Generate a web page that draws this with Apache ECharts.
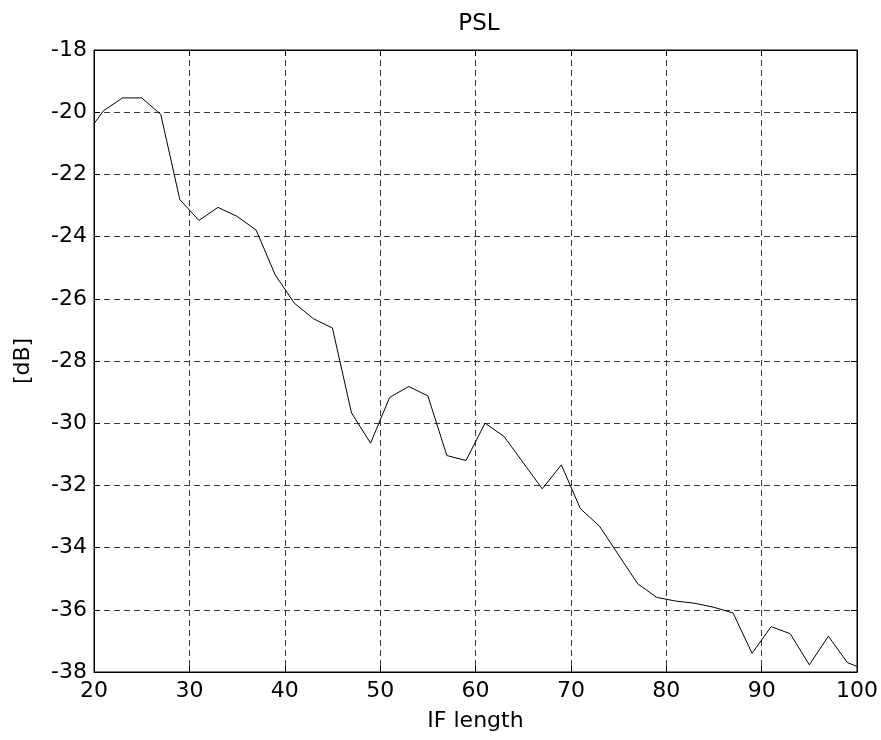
<!DOCTYPE html>
<html><head><meta charset="utf-8">
<script src="https://cdn.jsdelivr.net/npm/echarts@6/dist/echarts.min.js"></script>
<style>html,body{margin:0;padding:0;background:#fff}#c{width:881px;height:740px}</style>
</head><body><div id="c"></div>
<script>
const ifLength = [20,21,23,25,27,29,31,33,35,37,39,41,43,45,47,49,51,53,55,57,59,61,63,67,69,71,73,77,79,81,83,85,87,89,91,93,95,97,99,100];
const pslDb = [-20.37,-19.95,-19.54,-19.54,-20.07,-22.81,-23.48,-23.06,-23.35,-23.79,-25.23,-26.14,-26.64,-26.94,-29.67,-30.64,-29.17,-28.82,-29.12,-31.04,-31.2,-30.0,-30.43,-32.11,-31.34,-32.75,-33.31,-35.16,-35.6,-35.72,-35.79,-35.92,-36.1,-37.4,-36.54,-36.77,-37.77,-36.85,-37.7,-37.82];
const xTicks = [20,30,40,50,60,70,80,90,100];
const yTicks = [-38,-36,-34,-32,-30,-28,-26,-24,-22,-20,-18];

const font = 'DejaVu Sans, Liberation Sans, Arial, sans-serif';
const fs = 22;
const chart = echarts.init(document.getElementById('c'), null, {renderer:'canvas'});
const gridLine = {show:true, lineStyle:{color:'#3a3a3a', type:[6,4], width:1}};
chart.setOption({
  animation:false,
  backgroundColor:'#fff',
  title:{text:'PSL', left:474, top:8, textAlign:'center',
    textStyle:{fontFamily:font, fontSize:23, fontWeight:'normal', color:'#000'}},
  grid:{left:94, right:24, top:50, bottom:68, show:true, borderColor:'#000', borderWidth:1},
  xAxis:[{
    type:'value', min:xTicks[0], max:xTicks[xTicks.length-1], interval:10,
    name:'IF length', nameLocation:'middle', nameGap:38,
    nameTextStyle:{fontFamily:font, fontSize:fs, color:'#000'},
    axisLine:{show:true, lineStyle:{color:'#000'}},
    axisTick:{show:true, inside:true, length:6, lineStyle:{color:'#000'}},
    axisLabel:{fontFamily:font, fontSize:fs, color:'#000', margin:8},
    splitLine:gridLine
  },{
    type:'value', position:'top', min:xTicks[0], max:xTicks[xTicks.length-1], interval:10,
    axisLine:{show:true, lineStyle:{color:'#000'}},
    axisTick:{show:true, inside:true, length:6, lineStyle:{color:'#000'}},
    axisLabel:{show:false}, splitLine:{show:false}
  }],
  yAxis:[{
    type:'value', min:yTicks[0], max:yTicks[yTicks.length-1], interval:2,
    name:'[dB]', nameLocation:'middle', nameGap:60, nameRotate:90,
    nameTextStyle:{fontFamily:font, fontSize:fs, color:'#000'},
    axisLine:{show:true, lineStyle:{color:'#000'}},
    axisTick:{show:true, inside:true, length:6, lineStyle:{color:'#000'}},
    axisLabel:{fontFamily:font, fontSize:fs, color:'#000', margin:7},
    splitLine:gridLine
  },{
    type:'value', position:'right', min:yTicks[0], max:yTicks[yTicks.length-1], interval:2,
    axisLine:{show:true, lineStyle:{color:'#000'}},
    axisTick:{show:true, inside:true, length:6, lineStyle:{color:'#000'}},
    axisLabel:{show:false}, splitLine:{show:false}
  }],
  series:[{
    type:'line', xAxisIndex:0, yAxisIndex:0,
    data: ifLength.map((x,i)=>[x, pslDb[i]]),
    showSymbol:false, symbol:'none',
    lineStyle:{color:'#000', width:1}, clip:true
  }]
});
</script></body></html>
